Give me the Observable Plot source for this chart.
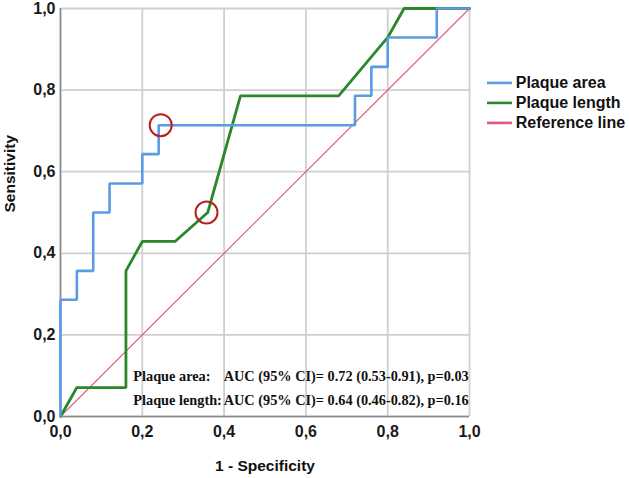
<!DOCTYPE html>
<html>
<head>
<meta charset="utf-8">
<script src="https://cdn.jsdelivr.net/npm/d3@7"></script>
<script src="https://cdn.jsdelivr.net/npm/@observablehq/plot@0.6"></script>
<style>
  html, body { margin: 0; padding: 0; background: #fff; }
</style>
</head>
<body>
<div id="chart"></div>
<script>
// ROC curve: Plaque area
const areaFPR = [0, 0, 0.04, 0.04, 0.08, 0.08, 0.12, 0.12, 0.20, 0.20, 0.24, 0.24, 0.72, 0.72, 0.76, 0.76, 0.80, 0.80, 0.92, 0.92, 1];
const areaTPR = [0, 0.286, 0.286, 0.357, 0.357, 0.5, 0.5, 0.571, 0.571, 0.643, 0.643, 0.714, 0.714, 0.786, 0.786, 0.857, 0.857, 0.929, 0.929, 1, 1];
// ROC curve: Plaque length
const lengthFPR = [0, 0.04, 0.16, 0.16, 0.20, 0.28, 0.36, 0.44, 0.68, 0.80, 0.84, 1];
const lengthTPR = [0, 0.071, 0.071, 0.357, 0.429, 0.429, 0.5, 0.786, 0.786, 0.929, 1, 1];
// Reference line
const refX = [0, 1];
const refY = [0, 1];
// Highlighted cut-off points
const markFPR = [0.245, 0.357];
const markTPR = [0.714, 0.5];
// Ticks
const ticks = [0, 0.2, 0.4, 0.6, 0.8, 1.0];
const tickLabels = ["0,0", "0,2", "0,4", "0,6", "0,8", "1,0"];
// Legend + annotation
const seriesNames = ["Plaque area", "Plaque length", "Reference line"];
const seriesColors = ["#5b9be2", "#2a872a", "#dc5a7a"];
const annotNames = ["Plaque area:", "Plaque length:"];
const annotStats = ["AUC (95% CI)= 0.72 (0.53-0.91), p=0.03", "AUC (95% CI)= 0.64 (0.46-0.82), p=0.16"];

const area = areaFPR.map((x, i) => ({x, y: areaTPR[i]}));
const length = lengthFPR.map((x, i) => ({x, y: lengthTPR[i]}));
const ref = refX.map((x, i) => ({x, y: refY[i]}));
const marks = markFPR.map((x, i) => ({x, y: markTPR[i]}));
const fmt = d => tickLabels[ticks.findIndex(t => Math.abs(t - d) < 1e-9)];

const legend = seriesNames.map((name, i) => ({name, color: seriesColors[i], y: 0.8176 - i * 0.049}));
const annot = annotNames.map((name, i) => ({name, stat: annotStats[i], y: 0.098 - i * 0.058}));

const chart = Plot.plot({
  width: 629,
  height: 478,
  marginLeft: 60,
  marginRight: 160,
  marginTop: 8,
  marginBottom: 62,
  style: {fontFamily: "'Liberation Sans', Arial, sans-serif", fontSize: "16px", fontWeight: "bold", color: "#222", background: "#fff"},
  x: {domain: [0, 1], label: null},
  y: {domain: [0, 1], label: null},
  marks: [
    Plot.gridX(ticks, {stroke: "#cfcfcf", strokeOpacity: 1, strokeWidth: 1.8}),
    Plot.gridY(ticks, {stroke: "#cfcfcf", strokeOpacity: 1, strokeWidth: 1.8}),
    Plot.ruleX([0], {stroke: "#8a8a8a", strokeWidth: 1.6}),
    Plot.ruleY([0], {stroke: "#8a8a8a", strokeWidth: 1.6}),
    Plot.axisX({ticks, tickFormat: fmt, tickSize: 0, tickPadding: 9, fill: "#1a1a1a", fontWeight: "bold"}),
    Plot.axisY({ticks, tickFormat: fmt, tickSize: 0, tickPadding: 5, fill: "#1a1a1a", fontWeight: "bold"}),
    Plot.line(ref, {x: "x", y: "y", stroke: seriesColors[2], strokeWidth: 1.1}),
    Plot.line(length, {x: "x", y: "y", stroke: seriesColors[1], strokeWidth: 2.8, strokeLinejoin: "miter"}),
    Plot.line(area, {x: "x", y: "y", stroke: seriesColors[0], strokeWidth: 2.6, strokeLinejoin: "miter"}),
    Plot.dot(marks, {x: "x", y: "y", r: 11, stroke: "#b8201e", strokeWidth: 2, fill: "none"}),
    Plot.text(annot, {x: () => 0.178, y: "y", text: "name", textAnchor: "start", fontFamily: "'Liberation Serif', 'Times New Roman', serif", fontWeight: "bold", fontSize: 14.3, fill: "#111"}),
    Plot.text(annot, {x: () => 0.399, y: "y", text: "stat", textAnchor: "start", fontFamily: "'Liberation Serif', 'Times New Roman', serif", fontWeight: "bold", fontSize: 14.3, fill: "#111"}),
    Plot.ruleY(legend, {y: "y", x1: () => 1.044, x2: () => 1.105, stroke: "color", strokeWidth: 2.6, clip: false}),
    Plot.text(legend, {x: () => 1.113, y: "y", text: "name", textAnchor: "start", fontSize: 16, fontWeight: "bold", fill: "#111", clip: false}),
    Plot.text(["Sensitivity"], {frameAnchor: "left", dx: -50, rotate: -90, fontSize: 15.5, fontWeight: "bold", fill: "#111"}),
    Plot.text(["1 - Specificity"], {frameAnchor: "bottom", dy: 54, fontSize: 15.5, fontWeight: "bold", fill: "#111"})
  ]
});
document.getElementById("chart").appendChild(chart);
</script>
</body>
</html>
